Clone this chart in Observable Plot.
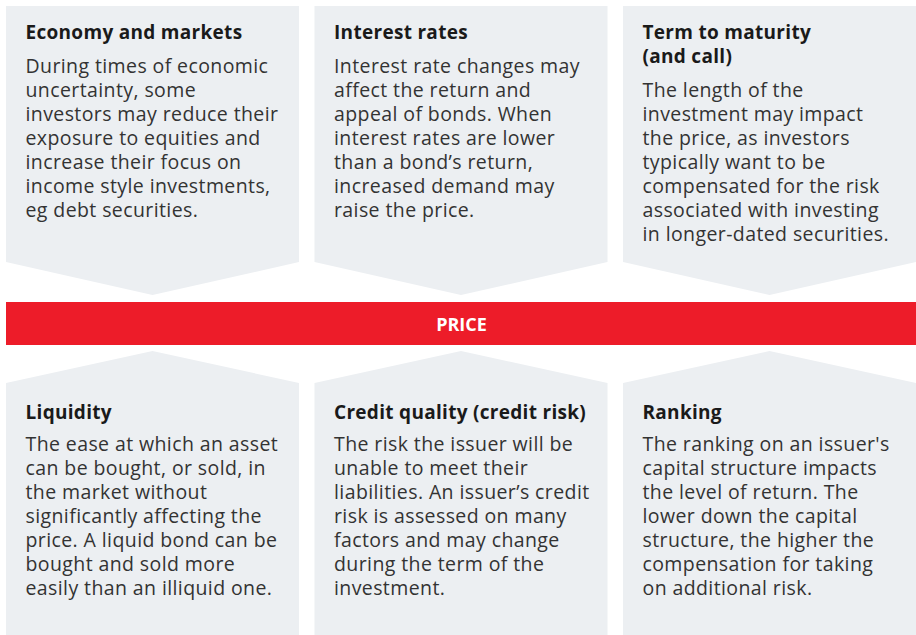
<!DOCTYPE html>
<html>
<head>
<meta charset="utf-8">
<script src="https://cdn.jsdelivr.net/npm/d3@7"></script>
<script src="https://cdn.jsdelivr.net/npm/@observablehq/plot@0.6"></script>
<style>
  html, body { margin: 0; padding: 0; background: #fff; }
  #chart svg { display: block; }
</style>
</head>
<body>
<div id="chart"></div>
<script>
// ---- content ----
const centerLabel = "PRICE";
const topTitles = [
  "Economy and markets",
  "Interest rates",
  "Term to maturity\n(and call)"
];
const topTexts = [
  "During times of economic\nuncertainty, some\ninvestors may reduce their\nexposure to equities and\nincrease their focus on\nincome style investments,\neg debt securities.",
  "Interest rate changes may\naffect the return and\nappeal of bonds. When\ninterest rates are lower\nthan a bond\u2019s return,\nincreased demand may\nraise the price.",
  "The length of the\ninvestment may impact\nthe price, as investors\ntypically want to be\ncompensated for the risk\nassociated with investing\nin longer-dated securities."
];
const bottomTitles = [
  "Liquidity",
  "Credit quality (credit risk)",
  "Ranking"
];
const bottomTexts = [
  "The ease at which an asset\ncan be bought, or sold, in\nthe market without\nsignificantly affecting the\nprice. A liquid bond can be\nbought and sold more\neasily than an illiquid one.",
  "The risk the issuer will be\nunable to meet their\nliabilities. An issuer\u2019s credit\nrisk is assessed on many\nfactors and may change\nduring the term of the\ninvestment.",
  "The ranking on an issuer's\ncapital structure impacts\nthe level of return. The\nlower down the capital\nstructure, the higher the\ncompensation for taking\non additional risk."
];

// ---- layout ----
const W = 916, H = 635;
const colX0 = 6, colStep = 308.5, colW = 293;
const padX = 19;
const lineH = 24;
const topPanel = {top: 6, corner: 262, tip: 295};
const botPanel = {tip: 351, corner: 383, bottom: H};
const bar = {x1: 6, x2: W, y1: 302, y2: 345};
const boxFill = "#eceff2";
const red = "#ed1c29";
const font = "'Open Sans', 'Noto Sans', sans-serif";
const titleSize = 19, bodySize = 19.5;

const cols = d3.range(3).map(i => {
  const x0 = colX0 + i * colStep;
  return {i, x0, x1: x0 + colW, xc: x0 + colW / 2};
});

// area data: top panels (chevron pointing down)
const topArea = cols.flatMap(c => [
  {g: c.i, x: c.x0, y1: topPanel.top, y2: topPanel.corner},
  {g: c.i, x: c.xc, y1: topPanel.top, y2: topPanel.tip},
  {g: c.i, x: c.x1, y1: topPanel.top, y2: topPanel.corner}
]);
// bottom panels (chevron pointing up)
const botArea = cols.flatMap(c => [
  {g: c.i, x: c.x0, y1: botPanel.corner, y2: botPanel.bottom},
  {g: c.i, x: c.xc, y1: botPanel.tip, y2: botPanel.bottom},
  {g: c.i, x: c.x1, y1: botPanel.corner, y2: botPanel.bottom}
]);

const titleTop = 21, bodyTopOffset = 34;
const topTitleData = cols.map(c => ({x: c.x0 + padX, y: titleTop, t: topTitles[c.i]}));
const topBodyData = cols.map(c => {
  const nTitle = topTitles[c.i].split("\n").length;
  return {x: c.x0 + padX, y: titleTop + bodyTopOffset + (nTitle - 1) * lineH, t: topTexts[c.i]};
});
const botTitleTop = 401;
const botTitleData = cols.map(c => ({x: c.x0 + padX, y: botTitleTop, t: bottomTitles[c.i]}));
const botBodyData = cols.map(c => ({x: c.x0 + padX, y: botTitleTop + bodyTopOffset - 2, t: bottomTexts[c.i]}));

const chart = Plot.plot({
  width: W,
  height: H,
  margin: 0,
  x: {domain: [0, W], range: [0, W], axis: null},
  y: {domain: [0, H], range: [0, H], axis: null},
  style: {fontFamily: font, background: "#fff"},
  marks: [
    Plot.areaY(topArea, {x: "x", y1: "y1", y2: "y2", z: "g", fill: boxFill}),
    Plot.areaY(botArea, {x: "x", y1: "y1", y2: "y2", z: "g", fill: boxFill}),
    Plot.rect([bar], {x1: "x1", x2: "x2", y1: "y1", y2: "y2", fill: red}),
    Plot.text([centerLabel], {x: (bar.x1 + bar.x2) / 2, y: (bar.y1 + bar.y2) / 2 + 1, text: d => d,
      fill: "#fff", fontWeight: 700, fontSize: 18, textAnchor: "middle", lineAnchor: "middle"}),
    Plot.text(topTitleData, {x: "x", y: "y", text: "t", textAnchor: "start", lineAnchor: "top",
      fontSize: titleSize, fontWeight: 700, fill: "#1a1a1a", lineHeight: lineH / titleSize}),
    Plot.text(topBodyData, {x: "x", y: "y", text: "t", textAnchor: "start", lineAnchor: "top",
      fontSize: bodySize, fill: "#333", lineHeight: lineH / bodySize}),
    Plot.text(botTitleData, {x: "x", y: "y", text: "t", textAnchor: "start", lineAnchor: "top",
      fontSize: titleSize, fontWeight: 700, fill: "#1a1a1a", lineHeight: lineH / titleSize}),
    Plot.text(botBodyData, {x: "x", y: "y", text: "t", textAnchor: "start", lineAnchor: "top",
      fontSize: bodySize, fill: "#333", lineHeight: lineH / bodySize})
  ]
});
// letter spacing to approximate the wider original typeface
const textGroups = chart.querySelectorAll('g[aria-label="text"]');
textGroups.forEach((g, k) => {
  if (k === 1 || k === 3) g.style.letterSpacing = "0.3px";
  if (k === 2 || k === 4) g.style.letterSpacing = "0.4px";
});
document.getElementById("chart").appendChild(chart);
</script>
</body>
</html>
